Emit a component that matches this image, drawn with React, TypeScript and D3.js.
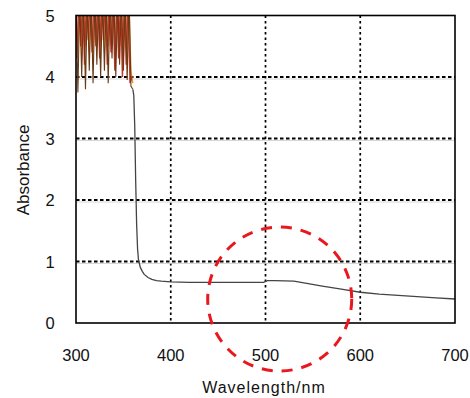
import React from "react";
import * as d3 from "d3";

const xTicks = [300, 400, 500, 600, 700];
const yTicks = [0, 1, 2, 3, 4, 5];

// main spectrum (after the saturated region)
const mainWl = [360, 361, 362, 363, 364, 365, 366, 368, 370, 372, 376, 380, 385, 390, 400, 420, 450, 480, 498, 502, 510, 530, 545, 560, 580, 600, 620, 640, 660, 680, 700];
const mainAbs = [3.8, 3.7, 3.2, 2.3, 1.6, 1.2, 1.02, 0.9, 0.84, 0.79, 0.74, 0.71, 0.69, 0.68, 0.67, 0.66, 0.66, 0.66, 0.66, 0.69, 0.69, 0.68, 0.64, 0.6, 0.55, 0.5, 0.47, 0.45, 0.43, 0.41, 0.39];

// saturated noisy region
const noiseWl = [300, 302, 304, 306, 308, 310, 312, 314, 316, 318, 320, 322, 324, 326, 328, 330, 332, 334, 336, 338, 340, 342, 344, 346, 348, 350, 352, 354, 356, 358, 360];
const brownAbs = [5.3, 3.75, 5.3, 4.0, 5.3, 3.8, 5.3, 4.1, 5.3, 3.9, 5.3, 4.2, 5.3, 4.0, 5.3, 4.1, 5.3, 3.9, 5.3, 4.3, 5.3, 4.0, 5.3, 4.2, 5.3, 4.1, 5.3, 3.95, 5.3, 3.85, 3.8];
const redWl = [301, 303, 305, 307, 309, 311, 313, 315, 317, 319, 321, 323, 325, 327, 329, 331, 333, 335, 337, 339, 341, 343, 345, 347, 349, 351, 353, 355, 357, 359];
const redAbs = [4.3, 5.3, 4.5, 5.3, 4.2, 5.3, 4.6, 5.3, 4.4, 5.3, 4.5, 5.3, 4.3, 5.3, 4.6, 5.3, 4.2, 5.3, 4.4, 5.3, 4.1, 5.3, 4.3, 5.3, 4.0, 5.3, 4.2, 5.3, 3.9, 4.0];
const orangeAbs = [5.2, 4.4, 5.3, 4.3, 5.2, 4.5, 5.3, 4.4, 5.2, 4.3, 5.3, 4.5, 5.2, 4.6, 5.3, 4.4, 5.2, 4.5, 5.3, 4.6, 5.2, 4.4, 5.3, 4.5, 5.2, 4.3, 5.3, 4.2, 5.2, 4.1, 3.9];

// annotation circle (data units)
const circleCenter = [515, 0.39];
const circleRadiusNm = 76;

export default function App() {
  const W = 470, H = 398;
  const left = 76, right = 455, top = 15.5, bottom = 323;
  const x = d3.scaleLinear().domain([300, 700]).range([left, right]);
  const y = d3.scaleLinear().domain([0, 5]).range([bottom, top]);

  const line = d3.line<[number, number]>().x(d => x(d[0])).y(d => y(d[1]));
  const mainPath = line(mainWl.map((w, i) => [w, mainAbs[i]]))!;
  const brownPath = line(noiseWl.map((w, i) => [w, brownAbs[i]]))!;
  const redPath = line(redWl.map((w, i) => [w, redAbs[i]]))!;
  const orangePath = line(noiseWl.map((w, i) => [w, orangeAbs[i]]))!;

  const cx = x(circleCenter[0]);
  const cy = y(circleCenter[1]);
  const r = x(circleCenter[0] + circleRadiusNm) - cx;

  const font = "'Liberation Sans', Arial, sans-serif";

  return (
    <svg width={W} height={H} style={{ position: "absolute", left: 0, top: 0, background: "#fff" }}>
      <defs>
        <clipPath id="plot">
          <rect x={left} y={top} width={right - left} height={bottom - top} />
        </clipPath>
      </defs>
      <rect x={0} y={0} width={W} height={H} fill="#fff" />
      {/* grid */}
      {xTicks.filter(t => t > 300 && t < 700).map(t => (
        <line key={"gx" + t} x1={x(t)} x2={x(t)} y1={top} y2={bottom} stroke="#000" strokeWidth={1.7} strokeDasharray="2.5,3" />
      ))}
      {yTicks.filter(t => t > 0 && t < 5).map(t => (
        <g key={"gy" + t}>
          <line x1={left} x2={right} y1={y(t) + 2} y2={y(t) + 2} stroke="#ccc" strokeWidth={0.8} />
          <line x1={left} x2={right} y1={y(t)} y2={y(t)} stroke="#000" strokeWidth={1.8} strokeDasharray="3.5,2.5" />
        </g>
      ))}
      {/* data */}
      <g clipPath="url(#plot)">
        <path d={orangePath} fill="none" stroke="#E8932E" strokeWidth={1.3} />
        <path d={redPath} fill="none" stroke="#C83228" strokeWidth={1.4} />
        <path d={brownPath} fill="none" stroke="#6B3A14" strokeWidth={1.1} />
        <path d={mainPath} fill="none" stroke="#444" strokeWidth={1.3} />
      </g>
      {/* frame */}
      <rect x={left} y={top} width={right - left} height={bottom - top} fill="none" stroke="#000" strokeWidth={1.6} />
      {/* annotation circle */}
      <circle cx={cx} cy={cy} r={r} fill="none" stroke="#E8181E" strokeWidth={3} strokeDasharray="11,9" />
      {/* ticks */}
      {xTicks.map(t => (
        <text key={"xt" + t} x={x(t)} y={bottom + 38} textAnchor="middle" fontFamily={font} fontSize={16.5} fill="#111">{t}</text>
      ))}
      {yTicks.map(t => (
        <text key={"yt" + t} x={left - 26} y={y(t) + 6} textAnchor="middle" fontFamily={font} fontSize={16.5} fill="#111">{t}</text>
      ))}
      <text x={264} y={393} textAnchor="middle" fontFamily={font} fontSize={16} letterSpacing={1} fill="#111">Wavelength/nm</text>
      <text transform={`translate(29,170) rotate(-90)`} textAnchor="middle" fontFamily={font} fontSize={17} fill="#111">Absorbance</text>
    </svg>
  );
}
